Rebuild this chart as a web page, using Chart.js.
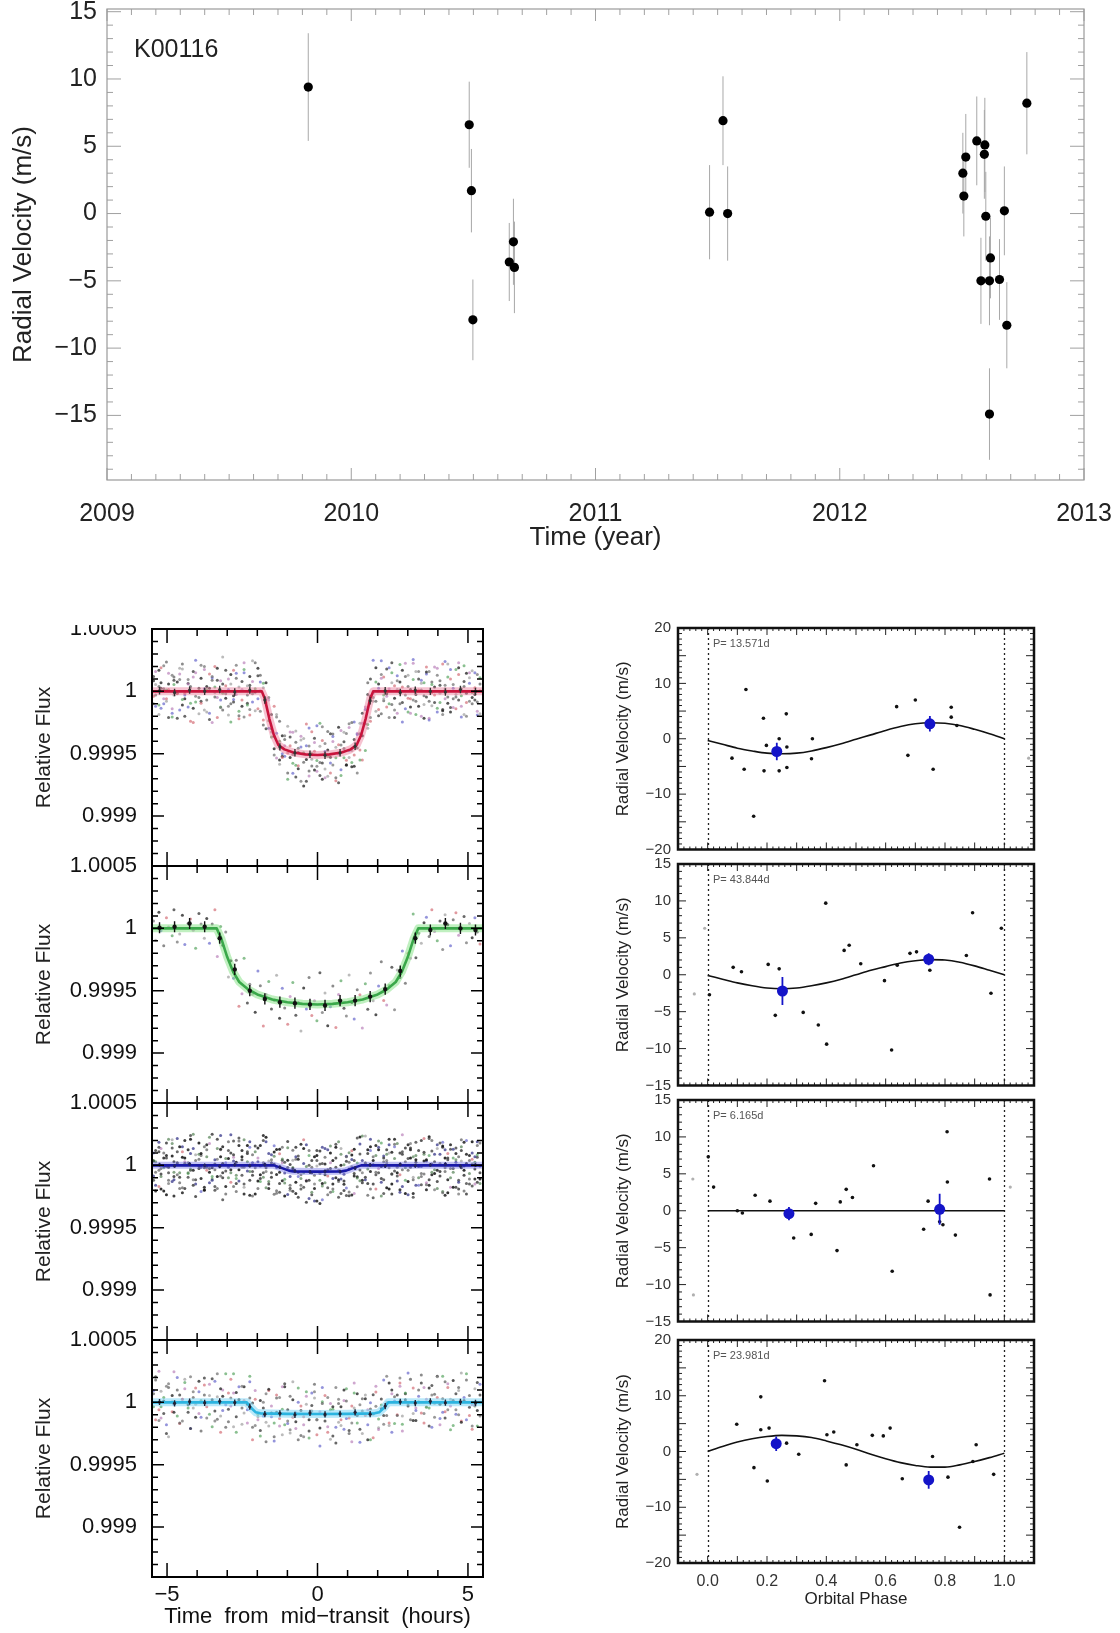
<!DOCTYPE html>
<html><head><meta charset="utf-8">
<script src="https://cdn.jsdelivr.net/npm/chart.js@4.4.1/dist/chart.umd.min.js"></script>
<style>
html,body{margin:0;padding:0;background:#fff;}
body{width:1120px;height:1633px;position:relative;overflow:hidden;font-family:"Liberation Sans",Arial,sans-serif;}
canvas{position:absolute;}
.lbl{position:absolute;white-space:nowrap;line-height:1;}
</style></head><body>
<canvas id="cTop" width="1120" height="560" style="left:0;top:0"></canvas>
<canvas id="cL1" width="560" height="255" style="left:0;top:615px"></canvas>
<canvas id="cL2" width="560" height="255" style="left:0;top:852px"></canvas>
<canvas id="cL3" width="560" height="255" style="left:0;top:1089px"></canvas>
<canvas id="cL4" width="560" height="307" style="left:0;top:1326px"></canvas>
<canvas id="cR1" width="560" height="239" style="left:560px;top:616px"></canvas>
<canvas id="cR2" width="560" height="239" style="left:560px;top:852px"></canvas>
<canvas id="cR3" width="560" height="239" style="left:560px;top:1088px"></canvas>
<canvas id="cR4" width="560" height="305" style="left:560px;top:1328px"></canvas>
<div style="position:absolute;left:0;top:600px;width:150px;height:25px;background:#fff"></div>
<div class="lbl" id="starName" style="left:134px;top:36px;font-size:25px;color:#222"></div>
<div class="lbl" id="per1" style="left:713px;top:638px;font-size:11px;color:#555"></div>
<div class="lbl" id="per2" style="left:713px;top:874px;font-size:11px;color:#555"></div>
<div class="lbl" id="per3" style="left:713px;top:1110px;font-size:11px;color:#555"></div>
<div class="lbl" id="per4" style="left:713px;top:1350px;font-size:11px;color:#555"></div>
<script>
// ---------------- DATA ----------------
const starName = 'K00116';
// Top panel: radial velocity time series
const rvYears = [2009.824,2010.483,2010.492,2010.498,2010.647,2010.664,2010.668,2011.467,2011.522,2011.541,2012.504,2012.508,2012.516,2012.561,2012.594,2012.592,2012.598,2012.617,2012.578,2012.613,2012.654,2012.674,2012.684,2012.613,2012.766];
const rvValues = [9.4,6.6,1.7,-7.9,-3.6,-2.1,-4.0,0.1,6.9,0.0,3.0,1.3,4.2,5.4,5.1,4.4,-0.2,-3.3,-5.0,-5.0,-4.9,0.2,-8.3,-14.9,8.2];
const rvErrors = [4.0,3.2,3.1,3.0,2.9,3.2,3.4,3.5,3.3,3.5,3.0,3.0,3.2,3.3,3.5,3.3,3.3,3.0,3.2,3.3,3.0,3.3,3.2,3.4,3.8];
const yearTicks = [2009,2010,2011,2012,2013];
const yearTickLabels = ['2009','2010','2011','2012','2013'];
const rvTicks = [-15,-10,-5,0,5,10,15];
const rvTickLabels = ['\u221215','\u221210','\u22125','0','5','10','15'];

// Transit panels (flux in ppm relative to 1)
const fluxTicks = [-1000,-500,0,500];
const fluxTickLabels = ['0.999','0.9995','1','1.0005'];
const hourTicks = [-5,0,5];
const hourTickLabels = ['\u22125','0','5'];
const scatterHours = [-5.45,-5.38,-5.27,-5.2,-5.11,-5.02,-4.95,-4.83,-4.77,-4.66,
-4.58,-4.49,-4.41,-4.3,-4.22,-4.13,-4.05,-3.94,-3.87,-3.76,
-3.68,-3.59,-3.5,-3.41,-3.33,-3.22,-3.15,-3.05,-2.96,-2.88,
-2.79,-2.7,-2.61,-2.51,-2.44,-2.33,-2.25,-2.16,-2.07,-1.98,
-1.9,-1.8,-1.71,-1.62,-1.53,-1.44,-1.36,-1.26,-1.17,-1.09,
-0.99,-0.91,-0.82,-0.72,-0.64,-0.55,-0.46,-0.37,-0.28,-0.19,
-0.1,-0.02,0.08,0.16,0.25,0.34,0.43,0.51,0.61,0.7,
0.78,0.88,0.96,1.05,1.14,1.22,1.32,1.41,1.49,1.59,
1.67,1.76,1.85,1.94,2.03,2.12,2.2,2.3,2.38,2.47,
2.56,2.65,2.74,2.82,2.92,3.01,3.09,3.18,3.27,3.36,
3.45,3.54,3.62,3.71,3.8,3.89,3.98,4.07,4.16,4.24,
4.33,4.42,4.51,4.6,4.69,4.78,4.87,4.95,5.05,5.14,
5.23,5.31,5.4];
const flux1a = [85,-120,40,190,-60,10,-210,130,-30,75,
-150,220,-15,60,-95,160,-40,-180,105,20,
-70,140,-250,35,90,-130,275,-55,15,-100,
170,-25,-160,80,-205,45,120,-85,230,-140,
5,65,-300,-50,-325,-460,-335,-240,-530,-435,
-705,-365,-507,-317,-621,-445,-568,-261,-678,-499,
-375,-600,-440,-704,-483,-321,-654,-401,-532,-733,
-429,-328,-588,-475,-250,-510,-335,-550,-175,-260,
-295,-40,250,-80,-145,105,-30,180,-210,70,
-55,125,-100,35,225,-165,15,-70,160,-120,
90,-35,195,-215,55,-90,130,-15,-155,240,
-45,100,-130,175,-70,20,-185,145,65,-100,
30,-160,110];
const flux1b = [-40,160,-110,25,205,-80,60,-175,115,-20,
140,-65,-200,95,30,-135,250,-50,-95,175,
15,-225,120,-10,185,-70,-150,45,100,-245,
-85,210,35,-120,150,-30,-190,80,20,125,
-160,30,70,-295,-300,-120,-535,-400,-520,-355,
-280,-530,-657,-407,-596,-360,-493,-721,-438,-544,
-630,-275,-570,-394,-693,-521,-339,-591,-447,-288,
-629,-458,-553,-290,-570,-385,-655,-255,-355,-145,
70,-240,-15,75,-195,135,-60,-20,190,-105,
45,-175,215,-90,-30,130,-125,255,-80,10,
-200,70,-45,160,-115,35,-165,85,220,-60,
115,-130,55,-25,190,-205,40,-90,150,-10,
-70,135,-180];
const flux1c = [120,-30,-185,70,-100,235,15,-140,55,-215,
95,180,-60,-125,40,-250,150,5,-80,200,
-165,25,110,-45,-210,85,-15,170,-120,60,
-35,145,-195,-70,230,-110,50,-20,-155,185,
75,-270,-90,-70,-365,-360,-205,-585,-355,-520,
-655,-435,-327,-592,-491,-720,-378,-546,-293,-599,
-480,-640,-255,-574,-418,-681,-529,-361,-692,-428,
-314,-533,-593,-260,-475,-600,-345,-340,-550,-125,
-265,100,-50,-160,60,245,-75,-125,20,150,
-210,85,-5,170,-140,40,-60,225,-185,100,
10,-105,155,-230,75,-30,185,-90,-145,50,
220,-165,25,-45,135,-120,205,-15,-80,165,
-25,-190,60];
const flux1d = [-100,55,170,-135,20,-60,145,-205,90,-15,
185,-110,-30,65,-240,115,-85,25,210,-150,
40,-175,90,200,-50,-125,60,-20,-190,135,
-65,105,-220,15,175,-95,-145,245,-5,-60,
130,-230,-60,-235,-185,-510,-185,-550,-500,-385,
-495,-325,-577,-687,-456,-390,-758,-436,-638,-324,
-410,-555,-675,-284,-623,-471,-574,-341,-717,-503,
-674,-403,-338,-530,-605,-245,-455,-470,-255,-475,
-25,-210,-80,190,25,-180,115,-40,-100,230,
-150,15,75,-245,120,-55,-175,95,-25,160,
65,-215,140,-80,-10,195,-135,50,-185,20,
-95,175,-60,-140,230,-35,80,-200,110,-50,
150,-85,5];
const flux2 = [60,-95,130,-20,-140,85,10,-60,150,-110,
-45,105,-130,40,75,-15,-160,120,35,-80,
80,-120,35,150,-225,15,-135,-30,-390,-260,
-400,-255,-625,-525,-240,-598,-448,-528,-673,-342,
-460,-783,-530,-426,-647,-577,-376,-721,-480,-639,
-768,-546,-434,-697,-595,-822,-479,-646,-393,-699,
-580,-740,-355,-674,-518,-781,-629,-462,-794,-531,
-419,-640,-703,-374,-595,-727,-492,-533,-799,-443,
-648,-357,-580,-692,-462,-267,-578,-615,-458,-312,
-652,-333,-393,-182,-440,-200,-240,115,-235,-40,
-120,45,90,-65,150,-25,-100,60,-170,110,
30,-140,70,125,-55,-10,95,-115,40,-75,
85,-30,-125];
const flux3a = [-85,120,-40,-190,60,-10,210,-130,30,-75,
150,-220,15,-60,95,-160,40,180,-105,-20,
70,-140,250,-35,-90,130,-275,55,-15,100,
-170,25,160,-80,205,-45,-120,85,-230,140,
-5,-95,190,-150,45,108,-73,-216,51,-61,
192,-159,-28,-225,75,-105,15,-295,120,-60,
-185,40,-120,145,-75,-235,100,-150,-15,190,
-110,-201,69,-29,-237,40,-101,172,-140,20,
125,-50,-260,80,145,-105,30,-180,210,-70,
55,-125,100,-35,-225,165,-15,70,-160,120,
-90,35,-195,215,-55,90,-130,15,155,-240,
45,-100,130,-175,70,-20,185,-145,-65,100,
-30,160,-110];
const flux3b = [40,-160,110,-25,-205,80,-60,175,-115,20,
-140,65,200,-95,-30,135,-250,50,95,-175,
-15,225,-120,10,-185,70,150,-45,-100,245,
85,-210,-35,120,-150,30,190,-80,-20,-125,
160,-60,-180,95,20,-232,127,-56,41,-141,
-233,6,122,-135,50,-190,-60,165,-120,-15,
70,-285,10,-165,135,-35,-215,40,-100,-255,
90,-71,34,-214,83,-85,219,-123,40,-95,
-240,150,5,-75,195,-135,60,20,-190,105,
-45,175,-215,90,30,-130,125,-255,80,-10,
200,-70,45,-160,115,-35,165,-85,-220,60,
-115,130,-55,25,-190,205,-40,90,-150,10,
70,-135,180];
const flux3c = [-120,30,185,-70,100,-235,-15,140,-55,215,
-95,-180,60,125,-40,250,-150,-5,80,-200,
165,-25,-110,45,210,-85,15,-170,120,-60,
35,-145,195,70,-230,110,-50,20,155,-185,
-75,240,-20,-130,85,8,-203,129,-124,24,
142,-89,-208,50,-55,170,-175,-10,-265,40,
-80,80,-305,15,-140,125,-25,-190,145,-115,
-225,4,74,-244,-12,130,-91,-38,235,-115,
95,-190,40,160,-60,-245,75,125,-20,-150,
210,-85,5,-170,140,-40,60,-225,185,-100,
-10,105,-155,230,-75,30,-185,90,145,-50,
-220,165,-25,45,-135,120,-205,15,80,-165,
25,190,-60];
const flux3d = [35,-205,145,-90,-10,180,-120,75,-245,110,
-60,150,-185,20,210,-40,-115,90,-15,-195,
125,-55,-20,-170,135,240,-100,-230,55,-35,
195,-80,-125,45,-15,160,-240,-50,110,30,
-105,20,225,-185,-60,73,-18,-146,146,-246,
42,-184,-18,70,-255,-75,135,-125,0,-215,
-285,120,-65,-145,10,-180,155,-105,60,-130,
0,-151,-241,101,48,-65,-171,227,-120,15,
-30,210,-150,-55,125,-10,-225,90,165,-70,
170,-60,-195,110,-20,-235,140,-115,45,-5,
-155,90,35,-115,200,-65,-40,180,-210,125,
60,-25,-175,95,-120,150,-5,-230,40,190,
-110,65,-145];
const flux3e = [100,-55,-170,135,-20,60,-145,205,-90,15,
-185,110,30,-65,240,-115,85,-25,-210,150,
-40,175,-90,-200,50,125,-60,20,190,-135,
65,-105,220,-15,-175,95,145,-245,5,60,
-130,200,-50,35,-95,158,-223,94,21,-111,
-18,-199,42,145,-90,-160,205,-120,80,-235,
-150,-5,115,-275,65,-85,20,-210,170,-40,
135,-126,-181,26,118,-225,19,92,-60,235,
-145,120,70,-190,-25,180,-115,40,100,-230,
150,-15,-75,245,-120,55,175,-95,25,-160,
-65,215,-140,80,10,-195,135,-50,185,-20,
95,-175,60,140,-230,35,-80,200,-110,50,
-150,85,-5];
const flux4a = [95,180,-60,-125,40,-250,150,5,-80,200,
-165,25,110,-45,-210,85,-15,170,-120,60,
-35,145,-195,-70,230,-110,50,-20,-155,185,
75,-240,20,130,-85,-15,165,-200,25,-140,
-270,-45,70,-190,-85,-310,35,-130,125,-180,
-60,-220,165,-155,0,-265,-115,50,-285,-25,
85,-140,-205,120,-105,-240,-10,-55,-325,25,
-185,100,-130,-250,-30,155,-165,-215,-70,60,
-300,-4,-93,84,-218,-22,-105,210,-185,100,
10,-105,155,-230,75,-30,185,-90,-145,50,
220,-165,25,-45,135,-120,205,-15,-80,165,
120,-30,-185,70,-100,235,15,-140,55,-215,
-25,-190,60];
const flux4b = [70,-140,250,-35,-90,130,-275,55,-15,100,
-170,25,160,-80,205,-45,-120,85,-230,140,
-5,-95,190,-150,45,110,-65,-200,75,-30,
230,-115,20,-175,125,-60,35,-300,95,-95,
-225,0,-160,105,-115,-275,60,-190,-55,150,
-150,-245,20,-85,-300,-30,-180,85,-230,-70,
35,-140,-350,-10,55,-195,-60,-270,120,-160,
-35,-215,10,-125,-315,75,-105,-20,-250,30,
-180,-54,-283,129,-133,28,-175,0,155,-240,
45,-100,130,-175,70,-20,185,-145,-65,100,
-85,120,-40,-190,60,-10,210,-130,30,-75,
150,-220,15,-60,95,-160,40,180,-105,-20,
-30,160,-110];
const flux4c = [-35,205,-145,90,10,-180,120,-75,245,-110,
60,-150,185,-20,-210,40,115,-90,15,195,
-125,55,20,170,-135,-240,100,230,-55,35,
-195,80,125,-45,15,-165,210,-5,-185,-115,
15,-110,-315,95,-30,-165,-80,40,-260,125,
-170,50,-120,-210,115,-65,-275,-15,-140,75,
145,-260,-75,5,-150,40,-295,-35,-200,-10,
-140,15,110,-225,-165,-45,70,-320,30,-105,
-60,-299,62,-31,-203,-52,180,-105,-165,70,
-170,60,195,-110,20,235,-140,115,-45,5,
155,-90,-35,115,-200,65,40,-180,210,-125,
-60,25,175,-95,120,-150,5,230,-40,-190,
110,-65,145];
const model1Hours = [-5.5,-1.85,-1.75,-1.6,-1.45,-1.3,-1.1,-0.8,-0.4,0,0.4,0.8,1.1,1.3,1.45,1.6,1.75,1.85,5.5];
const model1Flux  = [0,0,-60,-220,-350,-430,-465,-490,-505,-510,-505,-490,-465,-430,-350,-220,-60,0,0];
const model2Hours = [-5.5,-3.35,-3.2,-3.0,-2.8,-2.6,-2.3,-2.0,-1.5,-1.0,-0.5,0,0.5,1.0,1.5,2.0,2.3,2.6,2.8,3.0,3.2,3.35,5.5];
const model2Flux  = [0,0,-80,-230,-350,-430,-490,-530,-570,-592,-605,-610,-605,-592,-570,-530,-490,-430,-350,-230,-80,0,0];
const model3Hours = [-5.5,-1.45,-1.2,-0.95,-0.8,0,0.8,0.95,1.2,1.45,5.5];
const model3Flux  = [0,0,-20,-42,-48,-50,-48,-42,-20,0,0];
const model4Hours = [-5.5,-2.35,-2.2,-2.05,-1.9,-1.0,0,1.0,1.9,2.05,2.2,2.35,5.5];
const model4Flux  = [0,0,-45,-80,-88,-92,-93,-92,-88,-80,-45,0,0];
const binHours = [-5.25,-4.75,-4.25,-3.75,-3.25,-2.75,-2.25,-1.75,-1.25,-0.75,-0.25,0.25,0.75,1.25,1.75,2.25,2.75,3.25,3.75,4.25,4.75,5.25];
const bin1 = [5,-10,10,0,15,-5,10,-70,-445,-492,-505,-512,-493,-440,-75,5,-10,10,0,-5,15,0];
const bin2 = [5,13,39,13,-79,-329,-500,-566,-592,-600,-610,-618,-579,-579,-547,-487,-342,-79,-13,39,0,-13];
const bin3 = [5,-5,10,0,-8,5,-3,6,-15,-45,-52,-48,-50,-22,4,-6,8,-4,3,10,-5,2];
const bin4 = [3,-8,6,-4,8,-2,-35,-95,-88,-100,-85,-97,-92,-80,-95,-30,5,-6,8,-3,4,-5];
const binErrors = [30,45,15,25];

// Phase-folded RV panels
const periodLabels = ['P= 13.571d','P= 43.844d','P= 6.165d','P= 23.981d'];
const phaseTicks = [0,0.2,0.4,0.6,0.8,1.0];
const phaseTickLabels = ['0.0','0.2','0.4','0.6','0.8','1.0'];
const rv20Ticks = [-20,-10,0,10,20];
const rv20TickLabels = ['\u221220','\u221210','0','10','20'];
const rv15Ticks = [-15,-10,-5,0,5,10,15];
const rv15TickLabels = ['\u221215','\u221210','\u22125','0','5','10','15'];
const modelPhase = [0,0.05,0.1,0.15,0.2,0.25,0.3,0.35,0.4,0.45,0.5,0.55,0.6,0.65,0.7,0.75,0.8,0.85,0.9,0.95,1.0];

const r1Phase = [0.082,0.123,0.129,0.155,0.188,0.19,0.198,0.241,0.241,0.265,0.267,0.267,0.35,0.353,0.637,0.675,0.70,0.76,0.821,0.821,0.84];
const r1Rv    = [-3.5,-5.5,8.9,-14.0,3.7,-5.8,-1.2,0.0,-5.8,4.5,-5.2,-1.5,-3.6,0.0,5.8,-3.0,7.0,-5.5,5.7,3.9,2.4];
const r1WrapPhase = [1.082];
const r1WrapRv = [-3.5];
const r1BinPhase = [0.233,0.749];
const r1BinRv = [-2.3,2.7];
const r1BinErr = [1.6,1.4];
const r1Model = [-0.3,-1.0,-1.7,-2.2,-2.6,-2.7,-2.6,-2.2,-1.6,-0.9,-0.1,0.7,1.5,2.2,2.7,2.9,2.8,2.4,1.7,0.9,0.0];

const r2Phase = [0.006,0.086,0.114,0.204,0.228,0.241,0.322,0.373,0.398,0.401,0.46,0.477,0.516,0.596,0.62,0.639,0.682,0.704,0.749,0.872,0.893,0.955,0.99];
const r2Rv    = [-2.7,1.0,0.4,1.4,-5.5,0.8,-5.1,-6.8,9.7,-9.4,3.3,4.0,1.5,-0.8,-10.2,1.3,2.9,3.1,0.6,2.6,8.4,-2.5,6.3];
const r2WrapPhase = [-0.045,-0.01];
const r2WrapRv = [-2.6,6.3];
const r2BinPhase = [0.252,0.745];
const r2BinRv = [-2.2,2.1];
const r2BinErr = [1.9,0.8];
const r2Model = [-0.1,-0.6,-1.1,-1.5,-1.8,-1.9,-1.8,-1.5,-1.1,-0.6,0.0,0.6,1.1,1.6,1.9,2.05,2.0,1.7,1.2,0.6,0.0];

const r3Phase = [0.002,0.02,0.1,0.117,0.16,0.21,0.29,0.349,0.364,0.436,0.447,0.467,0.488,0.559,0.622,0.728,0.743,0.782,0.793,0.807,0.808,0.835,0.95,0.952];
const r3Rv    = [7.3,3.2,0.0,-0.3,2.1,1.3,-3.7,-3.2,1.0,-5.4,1.2,2.9,1.8,6.1,-8.2,-2.5,1.3,-1.5,-1.9,10.7,3.9,-3.3,4.3,-11.4];
const r3WrapPhase = [-0.05,-0.048,1.02];
const r3WrapRv = [4.3,-11.4,3.2];
const r3BinPhase = [0.274,0.782];
const r3BinRv = [-0.4,0.2];
const r3BinErr = [0.9,2.1];
const r3Model = [0,0,0,0,0,0,0,0,0,0,0,0,0,0,0,0,0,0,0,0,0];

const r4Phase = [0.098,0.156,0.179,0.179,0.201,0.207,0.266,0.307,0.394,0.402,0.425,0.467,0.503,0.555,0.592,0.615,0.656,0.758,0.81,0.849,0.894,0.905,0.964];
const r4Rv    = [4.9,-2.9,9.8,3.9,-5.3,4.2,1.5,-0.5,12.7,3.0,3.5,-2.4,1.2,2.9,2.8,4.2,-4.9,-0.9,-4.6,-13.6,-1.8,1.2,-4.1];
const r4WrapPhase = [-0.036];
const r4WrapRv = [-4.1];
const r4BinPhase = [0.231,0.745];
const r4BinRv = [1.4,-5.1];
const r4BinErr = [1.3,1.6];
const r4Model = [0.0,0.9,1.7,2.3,2.7,2.9,2.8,2.5,1.9,1.2,0.4,-0.5,-1.3,-2.0,-2.5,-2.8,-2.8,-2.4,-1.8,-1.1,-0.3];

// ---------------- RENDERING ----------------
const FONT = '"Liberation Sans", Arial, Helvetica, sans-serif';
Chart.defaults.font.family = FONT;
const fnt = s => ({family: FONT, size: s});

document.getElementById('starName').textContent = starName;
periodLabels.forEach((t,i) => { document.getElementById('per'+(i+1)).textContent = t; });

function linAxis(o) {
  return {
    type: 'linear', min: o.min, max: o.max, bounds: 'data', display: o.display !== false,
    grid: {display: false, drawTicks: false}, border: {display: false},
    afterBuildTicks: s => { s.ticks = o.ticks.map(v => ({value: v})); },
    afterFit: s => { if (o.isY) s.width = o.size; else s.height = o.size;
      s.paddingTop = 0; s.paddingBottom = 0; s.paddingLeft = 0; s.paddingRight = 0; },
    ticks: {display: !!o.labels, padding: o.pad || 0, font: fnt(o.font || 12), color: o.color || '#000',
      autoSkip: false, maxRotation: 0, minRotation: 0,
      callback: v => o.labels ? o.labels[o.ticks.indexOf(v)] : ''},
    title: o.title ? {display: true, text: o.title, font: fnt(o.titleSize), color: o.titleColor || o.color,
      padding: o.titlePad} : {display: false}
  };
}

const deco = {
  id: 'deco',
  beforeDatasetsDraw(chart, args, o) {
    const {ctx, chartArea: a} = chart; const xs = chart.scales.x;
    (o.vlines || []).forEach(v => {
      const px = Math.round(xs.getPixelForValue(v)) + 0.5;
      ctx.save(); ctx.strokeStyle = '#222'; ctx.lineWidth = 1.3; ctx.setLineDash([2, 3]);
      ctx.beginPath(); ctx.moveTo(px, a.top); ctx.lineTo(px, a.bottom); ctx.stroke(); ctx.restore();
    });
  },
  beforeDatasetDraw(chart, args) {
    const ds = chart.data.datasets[args.index];
    if (!ds.errors) return;
    const {ctx} = chart; const xs = chart.scales.x, ys = chart.scales.y;
    ctx.save(); ctx.strokeStyle = ds.errorColor; ctx.lineWidth = ds.errorWidth;
    ctx.beginPath();
    ds.data.forEach((p, i) => {
      const px = xs.getPixelForValue(p.x);
      ctx.moveTo(px, ys.getPixelForValue(p.y - ds.errors[i]));
      ctx.lineTo(px, ys.getPixelForValue(p.y + ds.errors[i]));
    });
    ctx.stroke(); ctx.restore();
  },
  afterDatasetsDraw(chart, args, o) {
    const {ctx, chartArea: a} = chart;
    ctx.save();
    ctx.strokeStyle = o.tickColor; ctx.lineWidth = o.tickWidth;
    ctx.beginPath();
    (o.ticks || []).forEach(t => {
      const sc = chart.scales[t.axis];
      const n = Math.round((t.to - t.from) / t.step);
      for (let i = 0; i <= n; i++) {
        const v = t.from + i * t.step;
        const q = v / t.major;
        const len = Math.abs(q - Math.round(q)) < 1e-6 ? t.majorLen : t.minorLen;
        const p = sc.getPixelForValue(v);
        if (t.axis === 'x') {
          ctx.moveTo(p, a.top); ctx.lineTo(p, a.top + len);
          ctx.moveTo(p, a.bottom); ctx.lineTo(p, a.bottom - len);
        } else {
          ctx.moveTo(a.left, p); ctx.lineTo(a.left + len, p);
          ctx.moveTo(a.right, p); ctx.lineTo(a.right - len, p);
        }
      }
    });
    ctx.stroke();
    ctx.strokeStyle = o.frameColor; ctx.lineWidth = o.frameWidth;
    ctx.strokeRect(a.left, a.top, a.right - a.left, a.bottom - a.top);
    ctx.restore();
  }
};

const baseOpts = (padding, decoOpts, scales) => ({
  responsive: false, animation: false, devicePixelRatio: 1, events: [],
  layout: {padding},
  plugins: {legend: {display: false}, tooltip: {enabled: false}, deco: decoOpts},
  scales
});

// --- Top panel ---
new Chart(document.getElementById('cTop'), {
  type: 'scatter',
  data: {datasets: [{
    data: rvYears.map((x, i) => ({x, y: rvValues[i]})),
    errors: rvErrors, errorColor: '#a8a8a8', errorWidth: 1,
    pointRadius: 4.6, backgroundColor: '#000', borderWidth: 0
  }]},
  options: baseOpts({left: 0, top: 9, right: 36, bottom: 0},
    {tickColor: '#a0a0a0', tickWidth: 1, frameColor: '#9a9a9a', frameWidth: 1.2,
     ticks: [{axis: 'x', from: 2009, to: 2013, step: 0.1, major: 1, majorLen: 12, minorLen: 6},
             {axis: 'y', from: -19, to: 15, step: 1, major: 5, majorLen: 14, minorLen: 6}]},
    {x: linAxis({min: 2009, max: 2013, ticks: yearTicks, labels: yearTickLabels, font: 25, color: '#222', pad: 19,
                 size: 80, title: 'Time (year)', titleSize: 26, titlePad: {top: 0, bottom: 7}}),
     y: linAxis({min: -19.8, max: 15.2, ticks: rvTicks, labels: rvTickLabels, font: 25, color: '#222', pad: 10,
                 size: 107, isY: true, title: 'Radial Velocity (m/s)', titleSize: 26, titlePad: {top: 8, bottom: 0}})}),
  plugins: [deco]
});

// --- Transit panels ---
const palMix = ['rgba(25,25,25,0.75)','rgba(110,110,110,0.7)','rgba(60,150,70,0.6)','rgba(200,70,80,0.55)',
             'rgba(60,60,190,0.55)','rgba(150,150,150,0.65)','rgba(40,40,40,0.7)','rgba(160,80,160,0.5)','rgba(90,90,90,0.7)'];
const palDark = ['rgba(15,15,15,0.85)','rgba(70,70,70,0.8)','rgba(40,40,130,0.7)','rgba(100,100,100,0.75)',
             'rgba(30,30,30,0.85)','rgba(70,120,70,0.65)','rgba(50,50,50,0.8)'];
function scatterSet(arr, k, r, pal) {
  const p = pal || palMix;
  const n = Math.min(scatterHours.length, arr.length);
  const d = [];
  for (let i = 0; i < n; i++) d.push({x: scatterHours[i], y: arr[i]});
  return {data: d, pointRadius: r, borderWidth: 0, order: 10,
          backgroundColor: c => p[(c.dataIndex * 4 + k) % p.length]};
}
function lineSet(xs, ys, color, w, order) {
  return {data: xs.map((x, i) => ({x, y: ys[i]})), showLine: true, borderColor: color, borderWidth: w,
          pointRadius: 0, tension: 0, order, borderCapStyle: 'round', borderJoinStyle: 'round'};
}
function binSet(ys, err, color, r) {
  return {data: binHours.map((x, i) => ({x, y: ys[i]})), errors: binHours.map(() => err),
          errorColor: color, errorWidth: 1.4, pointRadius: r, backgroundColor: color, borderWidth: 0, order: 1};
}
function transitPanel(id, sets, isBottom) {
  return new Chart(document.getElementById(id), {
    type: 'scatter',
    data: {datasets: sets},
    options: baseOpts({left: 0, right: 77, top: 14, bottom: isBottom ? 0 : 4},
      {tickColor: '#000', tickWidth: 1.5, frameColor: '#000', frameWidth: 2,
       ticks: [{axis: 'x', from: -5, to: 5, step: 1, major: 5, majorLen: 14, minorLen: 7},
               {axis: 'y', from: -1400, to: 500, step: 100, major: 500, majorLen: 12, minorLen: 6}]},
      {x: isBottom
          ? linAxis({min: -5.5, max: 5.5, ticks: hourTicks, labels: hourTickLabels, font: 22, color: '#111', pad: 5,
                     size: 56, title: 'Time  from  mid\u2212transit  (hours)', titleSize: 22, titlePad: {top: 0, bottom: 3}})
          : linAxis({min: -5.5, max: 5.5, ticks: hourTicks, display: false, size: 0}),
       y: linAxis({min: -1400, max: 500, ticks: fluxTicks, labels: fluxTickLabels, font: 22, color: '#111', pad: 15,
                   size: 152, isY: true, title: 'Relative Flux', titleSize: 21, titleColor: '#222', titlePad: {top: 32, bottom: 0}})}),
    plugins: [deco]
  });
}
transitPanel('cL1', [scatterSet(flux1a, 0, 1.5), scatterSet(flux1b, 3, 1.5), scatterSet(flux1c, 6, 1.5), scatterSet(flux1d, 1, 1.5),
  lineSet(model1Hours, model1Flux, 'rgba(235,120,150,0.45)', 8, 5),
  lineSet(model1Hours, model1Flux, '#c8143c', 2.6, 4),
  binSet(bin1, binErrors[0], '#333', 1.6)], false);
transitPanel('cL2', [scatterSet(flux2, 1, 1.5),
  lineSet(model2Hours, model2Flux, 'rgba(130,225,130,0.5)', 8, 5),
  lineSet(model2Hours, model2Flux, '#3aa84a', 2.6, 4),
  binSet(bin2, binErrors[1], '#111', 2.2)], false);
transitPanel('cL3', [scatterSet(flux3a, 2, 1.5, palDark), scatterSet(flux3b, 5, 1.5, palDark), scatterSet(flux3c, 1, 1.5, palDark),
  scatterSet(flux3d, 0, 1.5, palDark), scatterSet(flux3e, 4, 1.5, palMix),
  lineSet(model3Hours, model3Flux, 'rgba(120,120,230,0.45)', 7, 5),
  lineSet(model3Hours, model3Flux, '#1a1aa8', 2.6, 4),
  binSet(bin3, binErrors[2], '#222266', 1.6)], false);
transitPanel('cL4', [scatterSet(flux4a, 4, 1.5), scatterSet(flux4b, 8, 1.5), scatterSet(flux4c, 2, 1.5),
  lineSet(model4Hours, model4Flux, 'rgba(130,215,245,0.55)', 8, 5),
  lineSet(model4Hours, model4Flux, '#2cb4e0', 2.6, 4),
  binSet(bin4, binErrors[3], '#223', 1.6)], true);

// --- Phase panels ---
function phasePanel(id, P, isBottom) {
  const pts = (xs, ys) => xs.map((x, i) => ({x, y: ys[i]}));
  return new Chart(document.getElementById(id), {
    type: 'scatter',
    data: {datasets: [
      {data: pts(P.wrapPhase, P.wrapRv), pointRadius: 1.6, backgroundColor: '#b0b0b0', borderWidth: 0, order: 6},
      {data: pts(modelPhase, P.model), showLine: true, borderColor: '#111', borderWidth: 1.6, pointRadius: 0,
       cubicInterpolationMode: 'monotone', order: 4},
      {data: pts(P.phase, P.rv), pointRadius: 1.8, backgroundColor: '#111', borderWidth: 0, order: 3},
      {data: pts(P.binPhase, P.binRv), errors: P.binErr, errorColor: '#1414c8', errorWidth: 1.8,
       pointRadius: 5.5, backgroundColor: '#1414c8', borderWidth: 0, order: 1}
    ]},
    options: baseOpts({left: 0, right: 86, top: 12, bottom: isBottom ? 0 : 4},
      {vlines: [0, 1], tickColor: '#222', tickWidth: 1, frameColor: '#111', frameWidth: 2.5,
       ticks: [{axis: 'x', from: -0.1, to: 1.1, step: 0.02, major: 0.1, majorLen: 7, minorLen: 3},
               {axis: 'y', from: P.min, to: P.max, step: 1, major: 5, majorLen: 8, minorLen: 4}]},
      {x: isBottom
          ? linAxis({min: -0.1, max: 1.1, ticks: phaseTicks, labels: phaseTickLabels, font: 16, color: '#333', pad: 9,
                     size: 70, title: 'Orbital Phase', titleSize: 17, titleColor: '#222', titlePad: {top: 0, bottom: 23}})
          : linAxis({min: -0.1, max: 1.1, ticks: phaseTicks, display: false, size: 0}),
       y: linAxis({min: P.min, max: P.max, ticks: P.ticks, labels: P.labels, font: 15, color: '#333', pad: 7,
                   size: 118, isY: true, title: 'Radial Velocity (m/s)', titleSize: 17, titleColor: '#222', titlePad: {top: 53, bottom: 0}})}),
    plugins: [deco]
  });
}
phasePanel('cR1', {min: -20, max: 20, ticks: rv20Ticks, labels: rv20TickLabels, phase: r1Phase, rv: r1Rv,
  wrapPhase: r1WrapPhase, wrapRv: r1WrapRv, binPhase: r1BinPhase, binRv: r1BinRv, binErr: r1BinErr, model: r1Model}, false);
phasePanel('cR2', {min: -15, max: 15, ticks: rv15Ticks, labels: rv15TickLabels, phase: r2Phase, rv: r2Rv,
  wrapPhase: r2WrapPhase, wrapRv: r2WrapRv, binPhase: r2BinPhase, binRv: r2BinRv, binErr: r2BinErr, model: r2Model}, false);
phasePanel('cR3', {min: -15, max: 15, ticks: rv15Ticks, labels: rv15TickLabels, phase: r3Phase, rv: r3Rv,
  wrapPhase: r3WrapPhase, wrapRv: r3WrapRv, binPhase: r3BinPhase, binRv: r3BinRv, binErr: r3BinErr, model: r3Model}, false);
phasePanel('cR4', {min: -20, max: 20, ticks: rv20Ticks, labels: rv20TickLabels, phase: r4Phase, rv: r4Rv,
  wrapPhase: r4WrapPhase, wrapRv: r4WrapRv, binPhase: r4BinPhase, binRv: r4BinRv, binErr: r4BinErr, model: r4Model}, true);
</script>
</body></html>
